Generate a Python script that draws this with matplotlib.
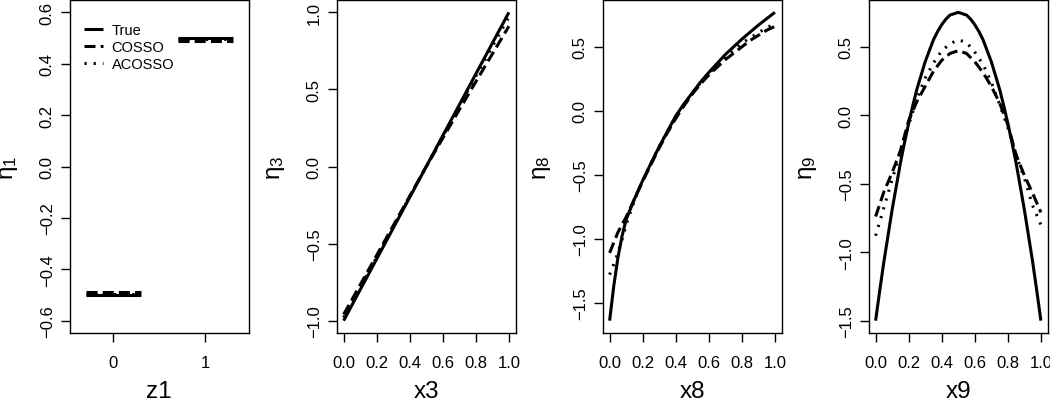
import numpy as np
import matplotlib
matplotlib.use("Agg")
import matplotlib.pyplot as plt

plt.rcParams['font.family'] = ['Liberation Sans', 'DejaVu Sans']
plt.rcParams['mathtext.fontset'] = 'custom'
plt.rcParams['mathtext.rm'] = 'Liberation Sans'
plt.rcParams['mathtext.it'] = 'Liberation Sans'
plt.rcParams['mathtext.bf'] = 'Liberation Sans'

# ---- data ----
# panel 1: z1 is a two-level factor
z1_levels = [0, 1]
eta1_true = [-0.5, 0.5]
eta1_cosso = [-0.49, 0.49]
eta1_acosso = [-0.495, 0.495]

# panel 2
x3 = [0.0, 0.25, 0.5, 0.75, 1.0]
eta3_true = [-1.0, -0.5, 0.0, 0.5, 1.0]
eta3_cosso = [-0.96, -0.48, 0.0, 0.46, 0.91]
eta3_acosso = [-0.98, -0.49, 0.0, 0.49, 0.97]

# panel 3
x8 = [0.0, 0.025, 0.05, 0.075, 0.1, 0.15, 0.2, 0.25, 0.3, 0.35, 0.4, 0.45,
      0.5, 0.55, 0.6, 0.65, 0.7, 0.75, 0.8, 0.85, 0.9, 0.95, 1.0]
eta8_true = [-1.64, -1.37, -1.15, -0.98, -0.85, -0.69, -0.545, -0.41, -0.28,
             -0.16, -0.04, 0.055, 0.14, 0.225, 0.30, 0.37, 0.44, 0.50, 0.56,
             0.615, 0.67, 0.72, 0.77]
eta8_cosso = [-1.11, -1.03, -0.95, -0.89, -0.83, -0.69, -0.55, -0.42, -0.29,
              -0.17, -0.06, 0.04, 0.13, 0.21, 0.28, 0.34, 0.40, 0.45, 0.50,
              0.55, 0.59, 0.63, 0.66]
eta8_acosso = [-1.28, -1.20, -1.11, -1.01, -0.89, -0.70, -0.545, -0.41, -0.28,
               -0.16, -0.05, 0.05, 0.14, 0.22, 0.29, 0.36, 0.42, 0.47, 0.53,
               0.57, 0.61, 0.65, 0.68]

# panel 4
x9_true = [0.0, 0.025, 0.05, 0.075, 0.1, 0.125, 0.15, 0.175, 0.2, 0.225, 0.25,
           0.275, 0.3, 0.325, 0.35, 0.375, 0.4, 0.425, 0.45, 0.475, 0.5,
           0.525, 0.55, 0.575, 0.6, 0.625, 0.65, 0.675, 0.7, 0.725, 0.75,
           0.775, 0.8, 0.825, 0.85, 0.875, 0.9, 0.925, 0.95, 0.975, 1.0]
eta9_true = [-1.50, -1.28, -1.07, -0.88, -0.69, -0.52, -0.35, -0.20, -0.06,
             0.07, 0.19, 0.29, 0.39, 0.47, 0.55, 0.61, 0.66, 0.70, 0.73, 0.74,
             0.75, 0.74, 0.73, 0.70, 0.66, 0.61, 0.55, 0.47, 0.39, 0.29, 0.19,
             0.07, -0.06, -0.20, -0.35, -0.52, -0.69, -0.88, -1.07, -1.28, -1.50]
x9 = [0.0, 0.05, 0.1, 0.15, 0.2, 0.25, 0.3, 0.35, 0.4, 0.45, 0.5,
      0.55, 0.6, 0.65, 0.7, 0.75, 0.8, 0.85, 0.9, 0.95, 1.0]
eta9_cosso = [-0.74, -0.56, -0.42, -0.26, -0.04, 0.10, 0.21, 0.32, 0.40, 0.45,
              0.47, 0.45, 0.39, 0.31, 0.21, 0.09, -0.07, -0.29, -0.44, -0.57,
              -0.71]
eta9_acosso = [-0.88, -0.675, -0.47, -0.27, -0.07, 0.12, 0.27, 0.38, 0.47, 0.52,
               0.55, 0.53, 0.46, 0.37, 0.24, 0.08, -0.09, -0.29, -0.46, -0.66,
               -0.80]

legend_labels = ["True", "COSSO", "ACOSSO"]

# ---- styles ----
LW = 2.2
st_true = dict(color='black', lw=LW, linestyle='-', solid_capstyle='butt')
st_cosso = dict(color='black', lw=LW, linestyle=(0, (3.6, 1.7)), dash_capstyle='butt')
st_acosso = dict(color='black', lw=LW, linestyle=(0, (0.7, 2.3)), dash_capstyle='butt')

W, H = 1050, 402
fig = plt.figure(figsize=(W / 100, H / 100), dpi=100)

lefts = [70, 337, 603, 869]
ax_w = 178.5
ax_top, ax_bot = 1, 334
TICK_FS = 12
LEG_FS = 10.5
LAB_FS = 17.5


def fmt(t):
    return f"{t:.1f}".replace("-", "\u2212")


def make_axes(left):
    ax = fig.add_axes([left / W, (H - ax_bot) / H, ax_w / W, (ax_bot - ax_top) / H])
    for s in ax.spines.values():
        s.set_linewidth(1.0)
    ax.tick_params(direction='out', length=6.5, width=1.0, labelsize=TICK_FS)
    ax.tick_params(axis='x', pad=9.5)
    ax.tick_params(axis='y', pad=4.5)
    return ax


def set_yticks(ax, ticks):
    ax.set_yticks(ticks)
    ax.set_yticklabels([fmt(t) for t in ticks], rotation=90, va='center')


def labels(ax, left, xlab, ylab):
    fig.text((left - 61) / W, 1 - 167.5 / H, ylab, rotation=90,
             ha='center', va='center', fontsize=LAB_FS)
    fig.text((left + ax_w / 2) / W, 1 - 392 / H, xlab,
             ha='center', va='center', fontsize=LAB_FS)


unit_ticks = [0.0, 0.2, 0.4, 0.6, 0.8, 1.0]

# panel 1
ax = make_axes(lefts[0])
z = np.array(z1_levels)
ax.hlines(eta1_true, z - 0.3, z + 0.3, color='black', lw=LW)
ax.hlines(eta1_acosso, z - 0.3, z + 0.3, color='black', lw=LW, linestyle=(0, (0.7, 2.3)))
ax.hlines(eta1_cosso, z - 0.3, z + 0.3, color='black', lw=LW, linestyle=(0, (3.6, 1.7)))
ax.set_xlim(-0.472, 1.472)
ax.set_ylim(-0.648, 0.648)
ax.set_xticks(z1_levels)
ax.set_xticklabels([str(v) for v in z1_levels])
set_yticks(ax, [-0.6, -0.4, -0.2, 0.0, 0.2, 0.4, 0.6])
labels(ax, lefts[0], "z1", r"$\eta_1$")
handles = [plt.Line2D([], [], **st_true), plt.Line2D([], [], **st_cosso),
           plt.Line2D([], [], **st_acosso)]
ax.legend(handles, legend_labels, loc='upper left', bbox_to_anchor=(0.078, 0.93),
          frameon=False, fontsize=LEG_FS, handlelength=1.3, handletextpad=0.6,
          labelspacing=0.2, borderpad=0, borderaxespad=0)

# panels 2-4
panels = [
    (x3, x3, eta3_true, eta3_cosso, eta3_acosso, "x3", r"$\eta_3$", [-1.0, -0.5, 0.0, 0.5, 1.0]),
    (x8, x8, eta8_true, eta8_cosso, eta8_acosso, "x8", r"$\eta_8$", [-1.5, -1.0, -0.5, 0.0, 0.5]),
    (x9_true, x9, eta9_true, eta9_cosso, eta9_acosso, "x9", r"$\eta_9$", [-1.5, -1.0, -0.5, 0.0, 0.5]),
]
for left, (xt, xv, yt, yc, ya, xlab, ylab, yticks) in zip(lefts[1:], panels):
    ax = make_axes(left)
    ax.plot(xt, yt, **st_true)
    ax.plot(xv, ya, **st_acosso)
    ax.plot(xv, yc, **st_cosso)
    ax.margins(x=0.04, y=0.04)
    ax.set_xticks(unit_ticks)
    ax.set_xticklabels([fmt(t) for t in unit_ticks])
    set_yticks(ax, yticks)
    labels(ax, left, xlab, ylab)

fig.savefig("out.png", dpi=100)
